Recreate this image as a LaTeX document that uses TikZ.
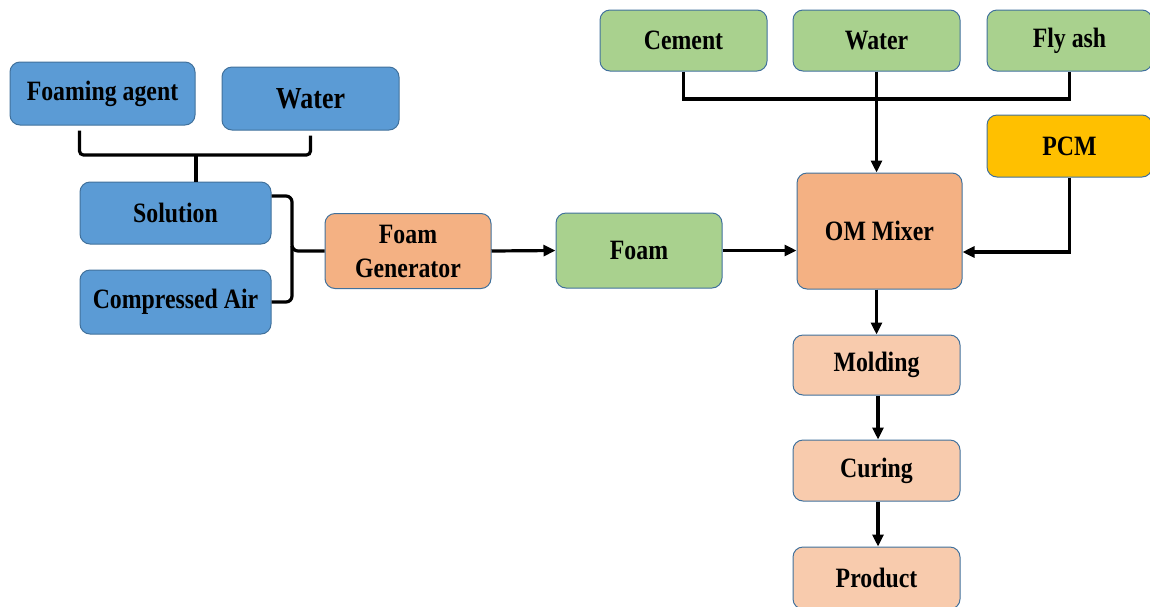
\documentclass[tikz,border=0pt]{standalone}
\usepackage{fontspec}
\setmainfont{Liberation Serif}[FakeStretch=0.85]
\usetikzlibrary{arrows.meta}
\definecolor{bluef}{HTML}{5B9BD5}
\definecolor{greenf}{HTML}{A9D18E}
\definecolor{orangef}{HTML}{F4B183}
\definecolor{peachf}{HTML}{F8CBAD}
\definecolor{goldf}{HTML}{FFC000}
\definecolor{edgec}{HTML}{41719C}
\tikzset{
  box/.style={draw=edgec, line width=1pt, rounded corners=10pt, inner sep=0pt,
    font=\fontsize{28}{30}\selectfont\bfseries, align=center},
  bluebox/.style={box, fill=bluef},
  greenbox/.style={box, fill=greenf},
  orangebox/.style={box, fill=orangef},
  peachbox/.style={box, fill=peachf},
  goldbox/.style={box, fill=goldf},
  conn/.style={line width=3.2pt, black},
  arr/.style={conn, -{Triangle[length=12pt,width=11pt]}},
}
\begin{document}
\begin{tikzpicture}[x=1pt,y=-1pt]
\useasboundingbox (0,0) rectangle (1150,606);
\begin{scope}
\clip (0,0) rectangle (1150,606);
% left inputs
\node[bluebox, minimum width=185pt, minimum height=63pt] (fa) at (102.5,93.5) {Foaming agent};
\node[bluebox, minimum width=177pt, minimum height=63pt, font=\fontsize{30.5}{32}\selectfont\bfseries] (w1) at (310.5,98.5) {Water};
\node[bluebox, minimum width=191pt, minimum height=62pt] (sol) at (175.5,213) {Solution};
\node[bluebox, minimum width=191pt, minimum height=64pt] (ca) at (175.5,302) {Compressed Air};
\node[orangebox, minimum width=166pt, minimum height=75pt] (fg) at (408,251) {Foam\\[4pt]Generator};
\node[greenbox, minimum width=166pt, minimum height=75pt] (foam) at (639,250.5) {Foam};
% top inputs
\node[greenbox, minimum width=167pt, minimum height=61pt] (cem) at (683.5,40.5) {Cement};
\node[greenbox, minimum width=167pt, minimum height=61pt] (w2) at (876.5,40.5) {Water};
\node[greenbox, minimum width=165pt, minimum height=61pt] (fly) at (1069.5,40.5) {Fly ash};
\node[goldbox, minimum width=165pt, minimum height=62pt] (pcm) at (1069.5,146) {PCM};
% process
\node[orangebox, minimum width=165pt, minimum height=116pt] (om) at (879.5,231) {OM Mixer};
\node[peachbox, minimum width=167pt, minimum height=60pt] (mold) at (876.5,365) {Molding};
\node[peachbox, minimum width=167pt, minimum height=61pt] (cur) at (876.5,470.5) {Curing};
\node[peachbox, minimum width=167pt, minimum height=62pt] (prod) at (876.5,578) {Product};

% bracket foaming agent + water -> solution
\coordinate (faB) at ([xshift=-23pt,yshift=-5pt]fa.south);
\coordinate (w1B) at ([yshift=-5pt]w1.south);
\draw[conn, rounded corners=4pt] (faB) -- (faB |- 0,155) -- (w1B |- 0,155) -- (w1B);
\coordinate (spk) at (196,155);
\draw[conn] (spk) -- (spk |- sol.north);

% curly brace solution + compressed air -> foam generator
\coordinate (brTop) at (sol.east |- 0,196);
\coordinate (brBot) at (ca.east |- 0,302);
\coordinate (brTip) at (fg.west);
\draw[conn, rounded corners=6pt] (brTop) -- (292,196) -- (292,251) -- (brTip);
\draw[conn, rounded corners=6pt] (brBot) -- (292,302) -- (292,246);

% main flow
\draw[arr] (fg.east) -- (foam.west);
\draw[arr] (foam.east) -- (foam.east -| om.west);

% top bracket
\coordinate (topY) at (0,99);
\draw[conn] (cem.south) -- (cem.south |- topY) -- (fly.south |- topY) -- (fly.south);
\draw[arr] (w2.south) -- (w2.south |- om.north);

% PCM
\coordinate (pcmY) at (0,252);
\draw[arr] (pcm.south) -- (pcm.south |- pcmY) -- (om.east |- pcmY);

% down chain
\draw[arr] (om.south -| mold.north) -- (mold.north);
\draw[arr] ([xshift=1.5pt]mold.south) -- ([xshift=1.5pt]cur.north);
\draw[arr] ([xshift=1.5pt]cur.south) -- ([xshift=1.5pt]prod.north);
\end{scope}
\end{tikzpicture}
\end{document}
